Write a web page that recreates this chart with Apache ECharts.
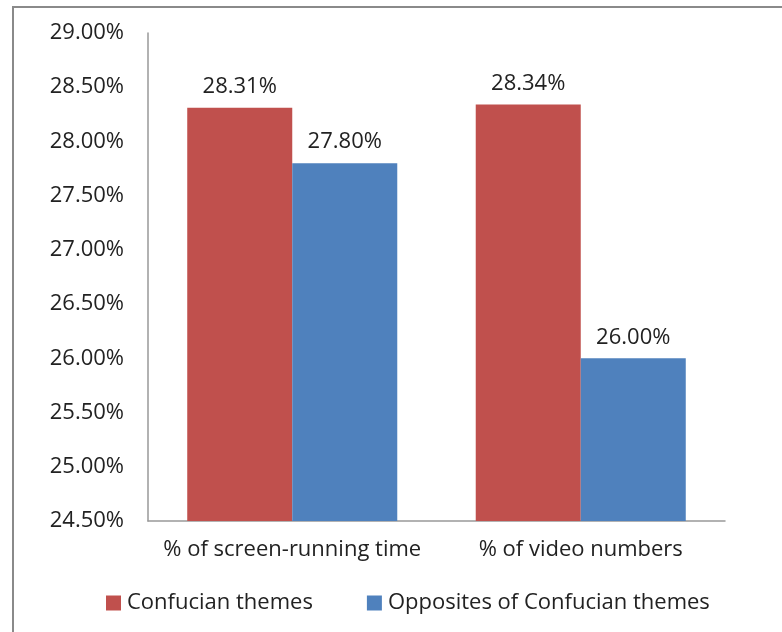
<!DOCTYPE html>
<html>
<head>
<meta charset="utf-8">
<script src="https://cdn.jsdelivr.net/npm/echarts@6/dist/echarts.min.js"></script>
<style>
  html, body { margin: 0; padding: 0; background: #fff; overflow: hidden; }
  #frame {
    position: absolute; left: 12px; top: 6px;
    width: 800px; height: 660px;
    border: 2px solid #8a8a8a; box-sizing: border-box;
  }
  #chart { position: absolute; left: 0; top: 0; width: 782px; height: 632px; }
</style>
</head>
<body>
<div id="frame"></div>
<div id="chart"></div>
<script>
const categories = ['% of screen-running time', '% of video numbers']
const confucian = [28.31, 28.34]
const opposites = [27.80, 26.00]
const seriesNames = ['Confucian themes', 'Opposites of Confucian themes']
const colors = ['#C0504D', '#4F81BD']

const font = '"Open Sans", sans-serif'
const fs = 22

const chart = echarts.init(document.getElementById('chart'))

const labelStyle = {
  show: true,
  position: 'top',
  distance: 10,
  color: '#222',
  fontSize: fs,
  fontFamily: font,
  formatter: p => p.value.toFixed(2) + '%'
}

chart.setOption({
  animation: false,
  color: colors,
  grid: { left: 148, right: 57, top: 33, bottom: 111 },
  legend: {
    data: seriesNames,
    bottom: 13,
    left: 101,
    itemWidth: 15,
    itemHeight: 15,
    itemGap: 54,
    icon: 'rect',
    textStyle: { fontSize: fs, color: '#222', fontFamily: font, padding: [0, 0, 0, 1] }
  },
  xAxis: {
    type: 'category',
    data: categories,
    axisLine: { lineStyle: { color: '#999', width: 1.5 } },
    axisTick: { show: false },
    axisLabel: { color: '#222', fontSize: fs, fontFamily: font, margin: 18, interval: 0 }
  },
  yAxis: {
    type: 'value',
    min: 24.5,
    max: 29,
    interval: 0.5,
    axisLine: { show: true, lineStyle: { color: '#999', width: 1.5 } },
    axisTick: { show: false },
    splitLine: { show: false },
    axisLabel: {
      color: '#222', fontSize: fs, fontFamily: font, margin: 24,
      formatter: v => v.toFixed(2) + '%'
    }
  },
  series: [
    { name: seriesNames[0], type: 'bar', data: confucian, barWidth: '36.4%', barGap: '0%', label: labelStyle },
    { name: seriesNames[1], type: 'bar', data: opposites, barWidth: '36.4%', barGap: '0%', label: labelStyle }
  ]
})
</script>
</body>
</html>
